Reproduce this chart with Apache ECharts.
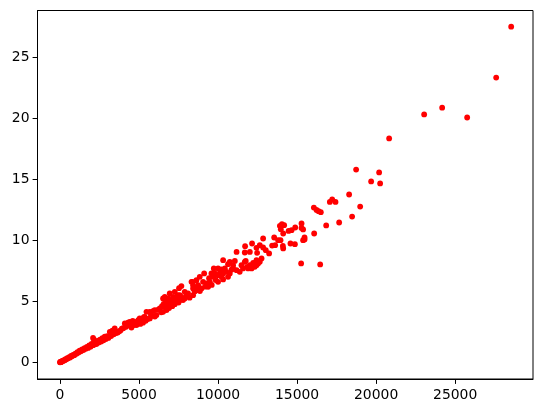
<!DOCTYPE html>
<html>
<head>
<meta charset="utf-8">
<style>html,body{margin:0;padding:0;background:#fff}#c{width:543px;height:413px}</style>
<script src="https://cdn.jsdelivr.net/npm/echarts@6/dist/echarts.min.js"></script>
</head>
<body>
<div id="c"></div>
<script>
const xTickValues = [0, 5000, 10000, 15000, 20000, 25000];
const yTickValues = [0, 5, 10, 15, 20, 25];
const lowBand = [[0,0],[15,0.01],[40,0.03],[60,0.02],[90,0.07],[120,0.06],[160,0.12],[200,0.11],[250,0.18],[300,0.17],[350,0.26],[400,0.24],[460,0.33],[520,0.32],[580,0.42],[640,0.4],[700,0.52],[760,0.5],[830,0.6],[900,0.58],[970,0.71],[1040,0.69],[1100,0.82],[1170,0.8],[1240,0.95],[1320,0.9],[1400,1.05],[1480,1.0],[1550,1.15],[1630,1.1],[1700,1.25],[1780,1.18],[1850,1.38],[1930,1.28],[2000,1.5],[2090,1.4],[2090,2.0],[2150,1.85],[2150,1.45],[2230,1.7],[2300,1.5],[2380,1.75],[2450,1.62],[2530,1.85],[2600,1.7],[2680,1.98],[2750,1.8],[2830,2.1],[2900,1.9],[2980,2.15],[3060,2.0],[3150,2.5],[3230,2.15],[3310,2.6],[3400,2.3],[3460,2.78],[3560,2.4],[3650,2.45],[3740,2.55],[3820,2.6],[3910,2.75],[4000,2.8],[4100,3.19],[4150,2.9],[4250,3.0],[4300,3.25],[4410,3.32],[4520,3.1],[4520,2.85],[4600,3.4],[4680,3.05]];
const midBand = [[4730,3.32],[4840,3.05],[4950,3.45],[5040,3.6],[5080,3.15],[5150,3.46],[5250,3.25],[5300,3.7],[5360,3.73],[5420,3.4],[5470,4.14],[5550,3.55],[5680,4.14],[5680,3.6],[5750,3.9],[5800,3.8],[5880,4.2],[5990,4.28],[6000,3.75],[6100,3.87],[6180,4.3],[6310,4.42],[6400,4.1],[6450,4.6],[6520,4.14],[6520,5.24],[6560,4.8],[6630,5.37],[6630,4.55],[6700,5.1],[6740,4.96],[6740,4.28],[6800,4.6],[6840,5.24],[6900,4.45],[6940,5.65],[7000,4.85],[7050,5.1],[7100,4.6],[7150,5.37],[7200,5.0],[7260,5.78],[7260,4.77],[7300,5.3],[7370,4.96],[7450,5.5],[7500,4.9],[7530,6.08],[7580,5.51],[7580,5.1],[7680,6.25],[7680,5.37],[7780,5.1],[7890,5.78],[7890,5.24],[8000,5.45],[8100,5.65],[8200,5.3],[8320,6.6],[8380,6.6],[8420,6.33],[8420,6.06],[8420,5.51],[8520,5.8],[8630,6.74],[8650,6.1],[8700,5.92],[8740,6.33],[8840,7.01],[8850,5.85],[8950,6.06],[9050,6.6],[9120,7.29],[9180,6.2],[9270,6.47],[9370,6.19],[9430,6.9],[9480,6.6],[9580,7.29],[9600,6.35],[9690,7.01],[9730,7.7],[9790,7.29],[9850,6.75],[10000,7.7],[10000,7.15],[10000,6.6],[10120,7.35],[10220,7.62],[10220,7.01],[10320,8.38],[10320,7.29],[10320,6.8],[10430,7.7],[10530,7.42],[10630,8.05],[10630,7.01],[10740,8.24],[10740,7.29],[10850,7.6],[10950,7.97],[10950,7.7],[11060,8.32],[11170,9.06],[11170,7.56],[11370,7.42],[11480,7.97]];
const upperBand = [[11580,7.7],[11690,9.01],[11690,8.24],[11710,9.53],[11750,8.32],[11840,7.83],[11900,7.7],[12010,9.06],[12010,7.97],[12120,7.7],[12150,9.75],[12220,8.16],[12320,7.83],[12430,9.39],[12430,8.38],[12430,7.97],[12470,8.98],[12530,8.11],[12640,9.61],[12640,8.24],[12750,8.52],[12850,10.16],[12850,9.42],[13020,9.2],[13230,8.93],[13420,9.58],[13550,10.24],[13610,9.61],[13800,10.02],[13910,11.2],[13950,10.02],[13970,10.92],[14040,11.33],[14100,9.55],[14120,10.57],[14120,9.34],[14180,11.25],[14460,10.78],[14580,9.75],[14650,10.84],[14860,9.69],[14880,11.06],[15255,8.11],[15280,11.39],[15280,11.03],[15380,10.9],[15380,10.02],[15470,10.24],[15470,10.08],[16060,12.7],[16080,10.57],[16230,12.5],[16360,12.4],[16460,8.03],[16500,12.32],[16840,11.23],[17070,13.16],[17220,13.36],[17430,13.16],[17660,11.47],[18291,13.77],[18480,11.96],[18734,15.82],[18990,12.78],[19684,14.84],[20190,15.58],[20253,14.68],[20823,18.37],[23038,20.34],[24177,20.9],[25759,20.09],[27595,23.37],[28544,27.55]];
const points = lowBand.concat(midBand, upperBand);
const chart = echarts.init(document.getElementById('c'), null, {renderer: 'canvas'});
const font = {fontFamily: 'DejaVu Sans', fontSize: 13.9, color: '#000', formatter: function (v) { return String(v); }};
const tick = {show: true, length: 4.9, lineStyle: {color: '#000', width: 1}};
chart.setOption({
  animation: false,
  backgroundColor: '#fff',
  grid: {left: 37.5, top: 10.5, width: 495.5, height: 368.5, show: true, backgroundColor: '#fff', borderColor: '#000', borderWidth: 1},
  xAxis: {type: 'value', min: -1425, max: 29925, splitLine: {show: false},
    axisLine: {show: true, lineStyle: {color: '#000', width: 1}, onZero: false},
    axisTick: Object.assign({customValues: xTickValues}, tick),
    axisLabel: Object.assign({customValues: xTickValues, margin: 9}, font)},
  yAxis: {type: 'value', min: -1.375, max: 28.875, splitLine: {show: false},
    axisLine: {show: true, lineStyle: {color: '#000', width: 1}, onZero: false},
    axisTick: Object.assign({customValues: yTickValues}, tick),
    axisLabel: Object.assign({customValues: yTickValues, margin: 8}, font)},
  series: [{type: 'scatter', data: points, symbol: 'circle', symbolSize: 5.8, itemStyle: {color: '#ff0000', opacity: 1}, clip: false}]
});
</script>
</body>
</html>
